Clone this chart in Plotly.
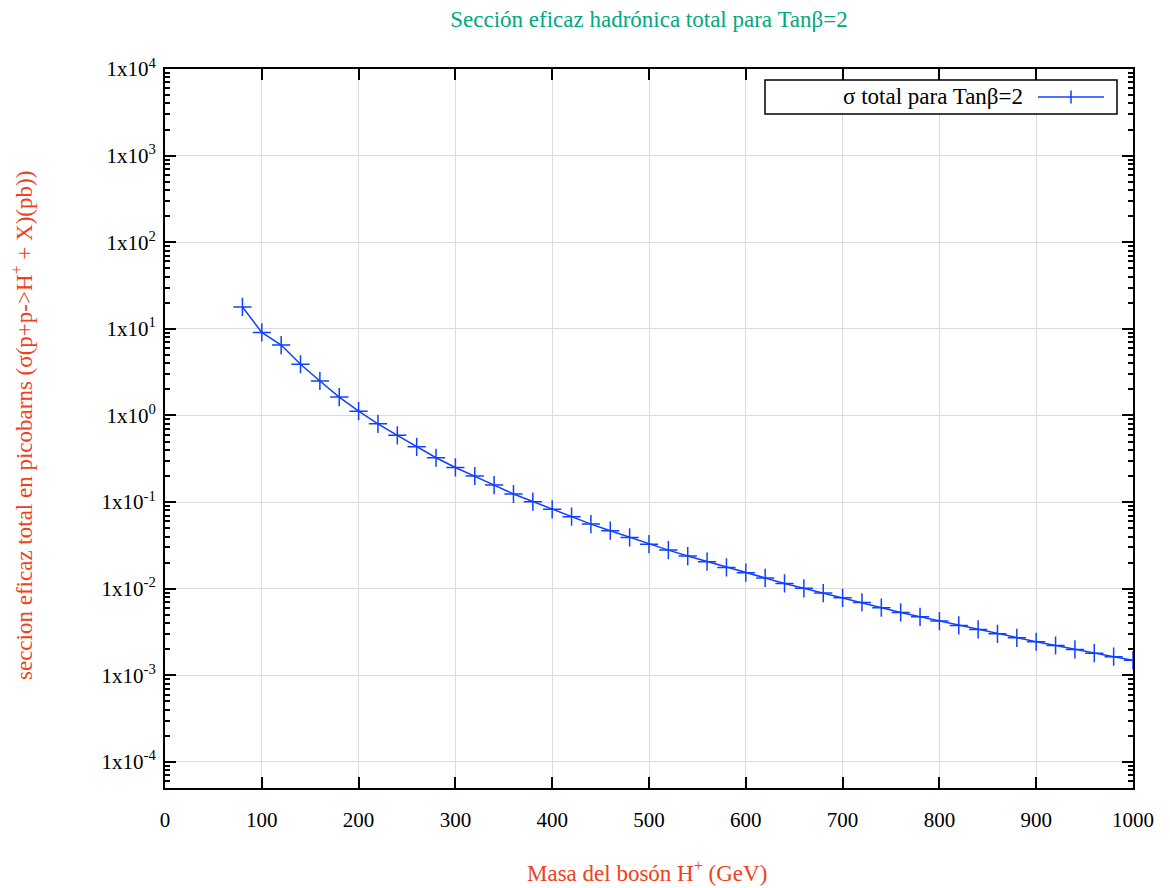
import plotly.graph_objects as go

masa = [80, 100, 120, 140, 160, 180, 200, 220, 240, 260, 280, 300, 320, 340, 360, 380,
        400, 420, 440, 460, 480, 500, 520, 540, 560, 580, 600, 620, 640, 660, 680, 700,
        720, 740, 760, 780, 800, 820, 840, 860, 880, 900, 920, 940, 960, 980, 1000]
sigma = [17.9, 9.1, 6.5, 3.9, 2.5, 1.63, 1.12, 0.80, 0.59, 0.435, 0.325, 0.251, 0.200,
         0.157, 0.124, 0.101, 0.0824, 0.0678, 0.0557, 0.0467, 0.0391, 0.0327, 0.0279,
         0.0238, 0.0205, 0.0176, 0.0153, 0.0133, 0.0115, 0.0101, 0.00889, 0.00785,
         0.00695, 0.00603, 0.00532, 0.00474, 0.00423, 0.00377, 0.00339, 0.00301,
         0.00271, 0.00244, 0.00221, 0.00199, 0.00180, 0.00164, 0.00149]

y_exps = [-4, -3, -2, -1, 0, 1, 2, 3, 4]
y_ticktext = [f"1x10<sup>{e}</sup>" for e in y_exps]
x_ticks = list(range(0, 1001, 100))

FONT = "Liberation Serif"
BLUE = "rgb(16,64,255)"
RED = "rgb(240,64,32)"
GREEN = "rgb(0,168,128)"

# page has an 8px body margin; figure sized so the plot area lands where the reference's does
W, H = 1162, 880

fig = go.Figure()
fig.add_trace(go.Scatter(
    x=masa, y=sigma, mode="lines+markers",
    line=dict(color=BLUE, width=1.5),
    marker=dict(symbol="cross-thin", size=13, line=dict(color=BLUE, width=1.5)),
    showlegend=False, name="σ total para Tanβ=2",
))

minor_vals = [k * 10.0 ** e for e in range(-5, 4) for k in range(2, 10)]

fig.update_layout(
    width=W, height=H,
    margin=dict(l=157, r=37, t=61, b=100),
    paper_bgcolor="white", plot_bgcolor="white",
    font=dict(family=FONT, size=21, color="black"),
    title=dict(text="Sección eficaz hadrónica total para Tanβ=2",
               x=0.5, xref="paper", y=1, yref="container", yanchor="top",
               pad=dict(t=3, b=0),
               font=dict(family=FONT, size=23, color=GREEN)),
    xaxis=dict(range=[0, 1000], tickmode="array", tickvals=x_ticks,
               ticks="inside", ticklen=11, tickwidth=1.5, tickcolor="black",
               showline=True, linewidth=2, linecolor="black", mirror="allticks",
               showgrid=True, gridcolor="rgb(220,220,220)", gridwidth=1,
               zeroline=False, ticklabelstandoff=12,
               tickfont=dict(family=FONT, size=21)),
    yaxis=dict(type="log", range=[-4.301, 4], tickmode="array",
               tickvals=[10.0 ** e for e in y_exps], ticktext=y_ticktext,
               ticks="inside", ticklen=11, tickwidth=1.5, tickcolor="black",
               showline=True, linewidth=2, linecolor="black", mirror="allticks",
               showgrid=True, gridcolor="rgb(220,220,220)", gridwidth=1,
               zeroline=False, ticklabelstandoff=3,
               minor=dict(tickmode="array", tickvals=minor_vals, ticks="inside",
                          ticklen=5, tickwidth=1.5, tickcolor="black", showgrid=False),
               tickfont=dict(family=FONT, size=21)),
)

# pixel (page) -> paper helpers; plot area spans x 165..1133, y 69..788 on the page
def px(xp):
    return (xp - 165) / 968

def py(yp):
    return (788 - yp) / 719

# axis titles
fig.add_annotation(text="Masa del bosón H<sup>+</sup> (GeV)", xref="paper", yref="paper",
                   x=px(647), y=py(872), xanchor="center", yanchor="middle", showarrow=False,
                   font=dict(family=FONT, size=23, color=RED))
fig.add_annotation(text="seccion eficaz total en picobarns (σ(p+p->H<sup>+</sup> + X)(pb))",
                   xref="paper", yref="paper", x=px(22), y=py(426),
                   xanchor="center", yanchor="middle", textangle=-90, showarrow=False,
                   font=dict(family=FONT, size=23, color=RED))

# legend box (manual, text left of sample as in reference)
fig.add_shape(type="rect", xref="paper", yref="paper",
              x0=px(765), x1=px(1117), y0=py(114), y1=py(80),
              line=dict(color="black", width=1.5), fillcolor="white", layer="above")
fig.add_annotation(text="σ total para Tanβ=2", xref="paper", yref="paper",
                   x=px(1025), y=py(97), xanchor="right", yanchor="middle",
                   showarrow=False, font=dict(family=FONT, size=23, color="black"))
fig.add_shape(type="line", xref="paper", yref="paper",
              x0=px(1038), x1=px(1104), y0=py(97), y1=py(97),
              line=dict(color=BLUE, width=1.5), layer="above")
fig.add_shape(type="line", xref="paper", yref="paper",
              x0=px(1071), x1=px(1071), y0=py(90.5), y1=py(103.5),
              line=dict(color=BLUE, width=1.5), layer="above")

fig.write_html("out.html")
